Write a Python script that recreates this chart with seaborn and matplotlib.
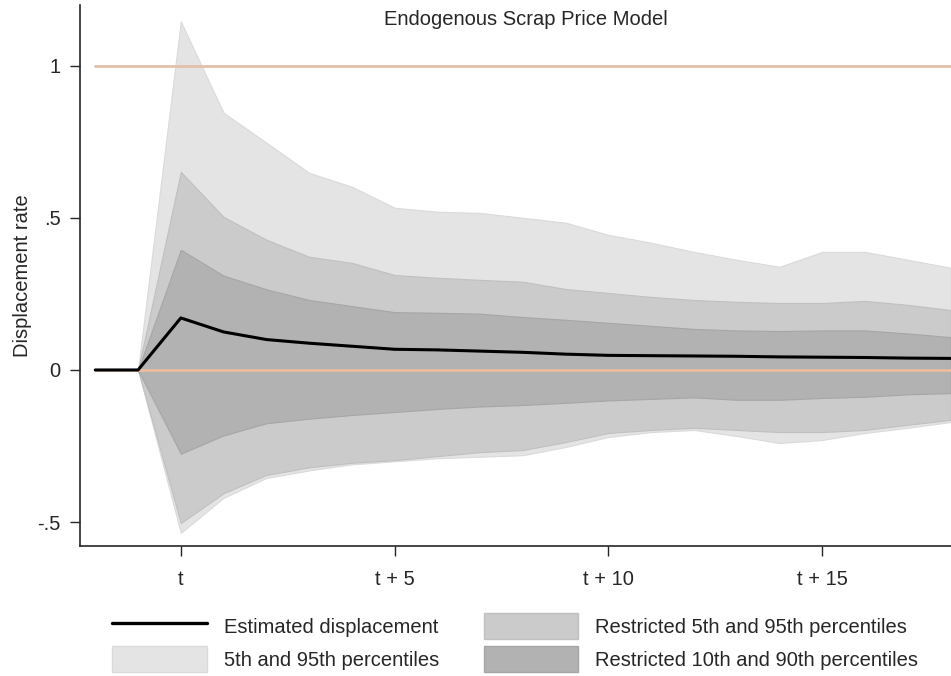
import numpy as np
import pandas as pd
import matplotlib.pyplot as plt
import seaborn as sns
from matplotlib.lines import Line2D
from matplotlib.patches import Patch

# periods relative to t
periods = list(range(-2, 19))
estimate = [0, 0, 0.171, 0.125, 0.100, 0.088, 0.078, 0.068, 0.066, 0.062, 0.058,
            0.052, 0.048, 0.047, 0.046, 0.045, 0.043, 0.042, 0.041, 0.039, 0.038]

# bands start at t-1
band_periods = list(range(-1, 19))
p95 = [0, 1.145, 0.845, 0.747, 0.648, 0.602, 0.533, 0.520, 0.516, 0.500, 0.484,
       0.444, 0.418, 0.388, 0.362, 0.339, 0.388, 0.388, 0.362, 0.336]
p5 = [0, -0.535, -0.420, -0.355, -0.330, -0.310, -0.300, -0.290, -0.285, -0.280, -0.253,
      -0.220, -0.204, -0.197, -0.217, -0.240, -0.230, -0.207, -0.190, -0.171]
r95 = [0, 0.651, 0.503, 0.428, 0.372, 0.352, 0.312, 0.303, 0.296, 0.290, 0.266,
       0.253, 0.240, 0.230, 0.224, 0.220, 0.220, 0.227, 0.214, 0.197]
r5 = [0, -0.503, -0.405, -0.345, -0.320, -0.305, -0.296, -0.283, -0.270, -0.263, -0.237,
      -0.207, -0.197, -0.190, -0.197, -0.204, -0.204, -0.197, -0.180, -0.164]
r90 = [0, 0.395, 0.310, 0.265, 0.230, 0.210, 0.190, 0.188, 0.185, 0.174, 0.165,
       0.155, 0.145, 0.135, 0.130, 0.128, 0.130, 0.130, 0.120, 0.108]
r10 = [0, -0.275, -0.215, -0.175, -0.160, -0.148, -0.138, -0.128, -0.120, -0.115, -0.108,
       -0.100, -0.095, -0.090, -0.098, -0.098, -0.092, -0.088, -0.080, -0.076]

xticks = [0, 5, 10, 15]
xticklabels = ['t', 't + 5', 't + 10', 't + 15']
yticks = [-0.5, 0, 0.5, 1]
yticklabels = ['-.5', '0', '.5', '1']

sns.set_style("ticks")
plt.rcParams['font.family'] = ['Liberation Sans', 'DejaVu Sans']
fs = 14.5

fig = plt.figure(figsize=(9.51, 6.76), dpi=100)
ax = fig.add_axes([0.084, 0.192, 0.916, 0.801])

c_light, c_mid, c_dark = '#e4e4e4', '#cbcbcb', '#b2b2b2'
ax.fill_between(band_periods, p5, p95, color=c_light, edgecolor='#dadada', lw=0.8, zorder=1)
ax.fill_between(band_periods, r5, r95, color=c_mid, edgecolor='#c0c0c0', lw=0.8, zorder=2)
ax.fill_between(band_periods, r10, r90, color=c_dark, edgecolor='#a6a6a6', lw=0.8, zorder=3)

ref = pd.DataFrame({'period': periods})
sns.lineplot(x=ref['period'], y=[1] * len(periods), color='#e2c0aa', lw=2, ax=ax, zorder=4)
sns.lineplot(x=ref['period'], y=[0] * len(periods), color='#ecbc9e', lw=2, ax=ax, zorder=4)
sns.lineplot(x=periods, y=estimate, color='black', lw=2.2, ax=ax, zorder=5)

ax.set_xlim(-2.36, 18.01)
ax.set_ylim(-0.579, 1.2)
ax.set_xticks(xticks)
ax.set_xticklabels(xticklabels)
ax.set_yticks(yticks)
ax.set_yticklabels(yticklabels)
ax.tick_params(labelsize=fs, length=7, width=1, pad=7)
ax.tick_params(axis='x', pad=10)
ax.set_xlabel('')
ax.set_ylabel('Displacement rate', fontsize=fs, labelpad=4)
sns.despine(ax=ax)
for s in ['left', 'bottom']:
    ax.spines[s].set_linewidth(1.2)

ax.text(0.5116, 0.991, 'Endogenous Scrap Price Model', transform=ax.transAxes,
        ha='center', va='top', fontsize=fs)

handles = [Line2D([], [], color='black', lw=2.4),
           Patch(facecolor=c_light, edgecolor='#dadada'),
           Patch(facecolor=c_mid, edgecolor='#c0c0c0'),
           Patch(facecolor=c_dark, edgecolor='#a6a6a6')]
labels = ['Estimated displacement', '5th and 95th percentiles',
          'Restricted 5th and 95th percentiles', 'Restricted 10th and 90th percentiles']
fig.legend(handles, labels, ncol=2, loc='center', bbox_to_anchor=(0.542, 0.049),
           frameon=False, fontsize=fs, handlelength=4.7, handleheight=1.6,
           handletextpad=0.85, columnspacing=2.2, labelspacing=0.35)

fig.savefig('out.png', dpi=100)
